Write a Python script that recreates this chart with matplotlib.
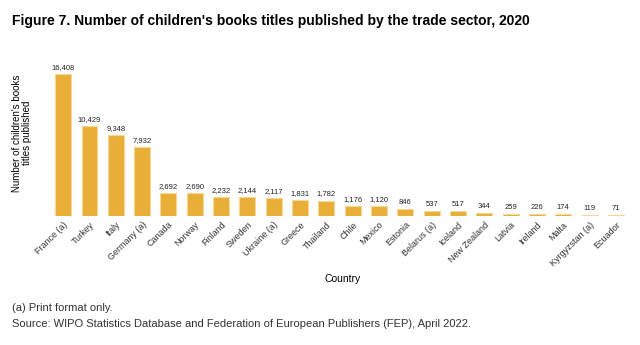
import matplotlib
matplotlib.use("Agg")
import matplotlib.pyplot as plt

# data
countries = ["France (a)", "Turkey", "Italy", "Germany (a)", "Canada", "Norway",
             "Finland", "Sweden", "Ukraine (a)", "Greece", "Thailand", "Chile",
             "Mexico", "Estonia", "Belarus (a)", "Iceland", "New Zealand", "Latvia",
             "Ireland", "Malta", "Kyrgyzstan (a)", "Ecuador"]
titles = [16408, 10429, 9348, 7932, 2692, 2690, 2232, 2144, 2117, 1831, 1782, 1176,
          1120, 846, 537, 517, 344, 259, 226, 174, 119, 71]

plt.rcParams['font.family'] = ['Liberation Sans', 'DejaVu Sans']

fig = plt.figure(figsize=(6.4, 3.45), dpi=100)
ax = fig.add_axes([0.078, 0.374, 0.905, 0.452])

x = range(len(countries))
ax.bar(x, titles, width=0.6, color='#E8AE38', edgecolor='#F6D894', linewidth=0.8)

for xi, v in zip(x, titles):
    ax.text(xi, v + 350, f"{v:,}", ha='center', va='bottom', fontsize=5.5, color='#222222')

ax.set_xlim(-0.5, len(countries) - 0.5)
ax.set_ylim(0, 18000)
ax.set_xticks(list(x))
ax.set_xticklabels(countries, rotation=45, ha='right', rotation_mode='anchor', fontsize=6.5, color='#333333')
ax.tick_params(axis='x', length=0, pad=3)
ax.set_yticks([])
for s in ax.spines.values():
    s.set_visible(False)

# y axis label
fig.text(22 / 640, 1 - 133 / 345, "Number of children's books\ntitles published", rotation=90,
         ha='center', va='center', fontsize=7, linespacing=1.0, multialignment='center')

fig.text(0.535, 0.19, "Country", ha='center', va='center', fontsize=7.5)
fig.text(0.019, 0.94, "Figure 7. Number of children's books titles published by the trade sector, 2020",
         fontsize=10, fontweight='bold', ha='left', va='center')
fig.text(0.019, 0.107, "(a) Print format only.", fontsize=8, color='#333333', va='center')
fig.text(0.019, 0.062, "Source: WIPO Statistics Database and Federation of European Publishers (FEP), April 2022.",
         fontsize=8, color='#333333', va='center')

fig.savefig("out.png", dpi=100)
